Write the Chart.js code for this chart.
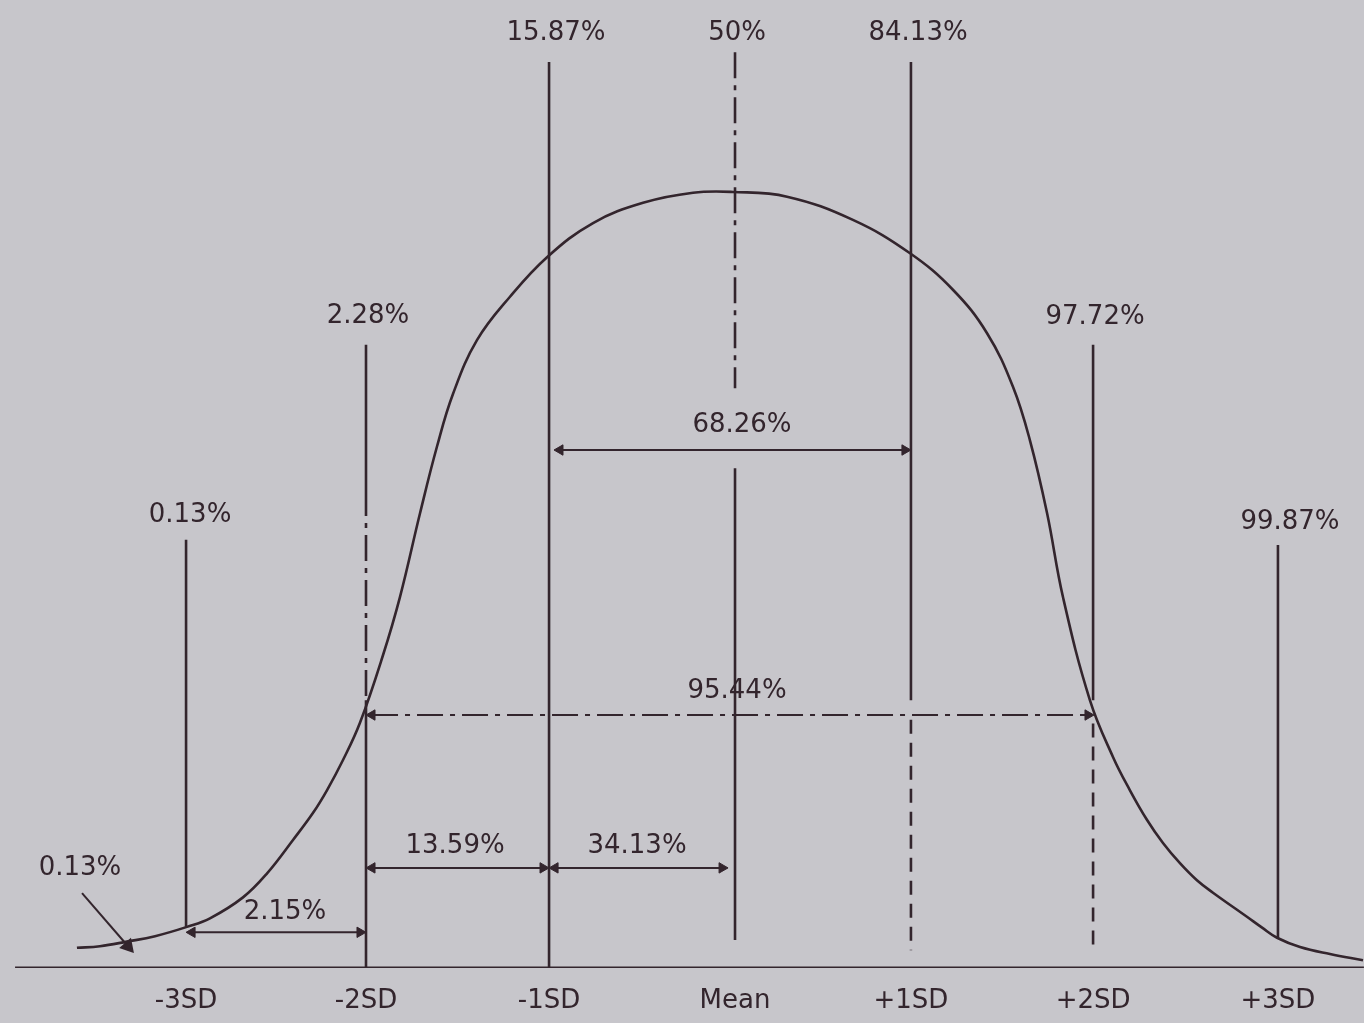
<!DOCTYPE html>
<html>
<head>
<meta charset="utf-8">
<script src="https://cdn.jsdelivr.net/npm/chart.js@4/dist/chart.umd.min.js"></script>
<style>
  html, body { margin: 0; padding: 0; background: #c7c6cb; }
  #wrap { width: 1364px; height: 1023px; }
</style>
</head>
<body>
<div id="wrap"><canvas id="c" width="1364" height="1023"></canvas></div>
<script>
// ---- Data (x in SD units, height relative to the peak) ----
const curveSD = [-3.584, -3.458, -3.310, -3.156, -2.981, -2.855, -2.674, -2.542, -2.400, -2.290, -2.214, -2.126, -2.033, -1.907, -1.814, -1.704, -1.611, -1.523, -1.392, -1.211, -1.008, -0.756, -0.482, -0.208, 0.011, 0.307, 0.668, 0.981, 1.216, 1.403, 1.545, 1.638, 1.732, 1.819, 1.967, 2.093, 2.186, 2.279, 2.367, 2.460, 2.553, 2.641, 2.827, 2.910, 2.992, 3.118, 3.282, 3.463];
const curveH  = [0.026, 0.028, 0.034, 0.041, 0.053, 0.064, 0.091, 0.122, 0.165, 0.200, 0.229, 0.268, 0.316, 0.403, 0.478, 0.586, 0.672, 0.740, 0.809, 0.865, 0.916, 0.960, 0.986, 0.999, 1.000, 0.994, 0.964, 0.921, 0.874, 0.818, 0.749, 0.680, 0.586, 0.478, 0.345, 0.272, 0.229, 0.191, 0.161, 0.135, 0.113, 0.097, 0.066, 0.052, 0.039, 0.027, 0.018, 0.010];

// SD marker lines and axis tick labels
const sdLineX    = [-2.986, -2.000, -0.997, 0.022, 0.986, 1.984, 2.997];
const tickLabels = ['-3SD', '-2SD', '-1SD', 'Mean', '+1SD', '+2SD', '+3SD'];

// Cumulative percentages shown above each SD line
const cumLabels = ['0.13%', '2.28%', '15.87%', '50%', '84.13%', '97.72%', '99.87%'];
const cumLabelX = [-2.964, -1.989, -0.959, 0.033, 1.025, 1.995, 3.063];
const cumLabelH = [0.584, 0.840, 1.205, 1.205, 1.205, 0.838, 0.575];

// Vertical line segments: [sd index, top, bottom, style]
const lineSegIdx    = [0, 1, 1, 1, 2, 3, 3, 4, 4, 5, 5, 6];
const lineSegTop    = [0.552, 0.803, 0.616, 0.345, 1.1675, 1.180, 0.644, 1.1675, 0.320, 0.803, 0.315, 0.545];
const lineSegBottom = [0.053, 0.616, 0.345, 0.000, 0.000, 0.747, 0.036, 0.345, 0.023, 0.345, 0.023, 0.039];
const lineSegStyle  = ['solid', 'solid', 'dashdot', 'solid', 'solid', 'dashdot', 'solid', 'solid', 'dashed', 'solid', 'dashed', 'solid'];

// Interval arrows (percent between two SD positions)
const intervalLabels = ['68.26%', '95.44%', '13.59%', '34.13%', '2.15%'];
const intervalFrom   = [-0.937, -1.967, -1.967, -0.964, -2.953];
const intervalTo     = [0.953, 1.956, -1.030, -0.049, -2.033];
const intervalH      = [0.6675, 0.326, 0.129, 0.129, 0.046];
const intervalLabelX = [0.060, 0.033, -1.512, -0.515, -2.444];
const intervalLabelH = [0.700, 0.356, 0.157, 0.157, 0.072];
const intervalStyle  = ['solid', 'dashdot', 'solid', 'solid', 'solid'];

// Tail label with pointer
const tailLabel = '0.13%';
const tailLabelX = -3.567, tailLabelH = 0.129;
const tailPointerX = [-3.556, -3.304];
const tailPointerH = [0.0966, 0.028];

// Base axis line extent
const axisX = [-3.923, 3.468];

// ---- Styling ----
const INK = '#33252d';
const BG = '#c7c6cb';
const FONT = '26px "DejaVu Sans", sans-serif';
const dashes = { solid: [], dashed: [14, 9], dashdot: [26, 7, 5, 7] };

const datasets = [];

// axis base line
datasets.push({
  data: axisX.map(x => ({ x, y: 0 })),
  showLine: true, borderColor: INK, borderWidth: 3, pointRadius: 0
});

// the curve
datasets.push({
  data: curveSD.map((x, i) => ({ x, y: curveH[i] })),
  showLine: true, borderColor: INK, borderWidth: 2.6, pointRadius: 0,
  tension: 0.4
});

// vertical SD lines
lineSegIdx.forEach((k, i) => {
  datasets.push({
    data: [{ x: sdLineX[k], y: lineSegTop[i] }, { x: sdLineX[k], y: lineSegBottom[i] }],
    showLine: true, borderColor: INK, borderWidth: 2.6, pointRadius: 0,
    borderDash: dashes[lineSegStyle[i]]
  });
});

// interval arrows
intervalFrom.forEach((x0, i) => {
  datasets.push({
    data: [{ x: x0, y: intervalH[i] }, { x: intervalTo[i], y: intervalH[i] }],
    showLine: true, borderColor: INK, borderWidth: 2, borderDash: dashes[intervalStyle[i]],
    pointStyle: 'triangle', pointRadius: 6, pointRotation: [-90, 90],
    pointBackgroundColor: INK, pointBorderColor: INK, pointBorderWidth: 1
  });
});

// tail pointer
datasets.push({
  data: tailPointerX.map((x, i) => ({ x, y: tailPointerH[i] })),
  showLine: true, borderColor: INK, borderWidth: 2,
  pointStyle: 'triangle', pointRadius: [0, 7], pointRotation: [0, 139],
  pointBackgroundColor: INK, pointBorderColor: INK
});

const bgPlugin = {
  id: 'bg',
  beforeDraw(chart) {
    const ctx = chart.ctx;
    ctx.save();
    ctx.fillStyle = BG;
    ctx.fillRect(0, 0, chart.width, chart.height);
    ctx.restore();
  }
};

const textPlugin = {
  id: 'texts',
  afterDatasetsDraw(chart) {
    const ctx = chart.ctx, xs = chart.scales.x, ys = chart.scales.y;
    ctx.save();
    ctx.font = FONT;
    ctx.fillStyle = INK;
    ctx.textAlign = 'center';
    ctx.textBaseline = 'middle';
    const put = (t, x, h) => ctx.fillText(t, xs.getPixelForValue(x), ys.getPixelForValue(h));
    cumLabels.forEach((t, i) => put(t, cumLabelX[i], cumLabelH[i]));
    intervalLabels.forEach((t, i) => put(t, intervalLabelX[i], intervalLabelH[i]));
    put(tailLabel, tailLabelX, tailLabelH);
    ctx.restore();
  }
};

new Chart(document.getElementById('c'), {
  type: 'scatter',
  data: { datasets },
  options: {
    responsive: false,
    animation: false,
    events: [],
    layout: { padding: 0, autoPadding: false },
    plugins: { legend: { display: false }, tooltip: { enabled: false } },
    scales: {
      x: {
        type: 'linear',
        min: -4.0055, max: 3.4685,
        grid: { display: false, drawTicks: false },
        border: { display: false },
        afterBuildTicks: s => { s.ticks = sdLineX.map(v => ({ value: v })); },
        afterFit: s => { s.height = 55; },
        ticks: {
          autoSkip: false, maxRotation: 0, padding: 18,
          color: INK, font: { family: '"DejaVu Sans", sans-serif', size: 26 },
          callback: (v, i) => tickLabels[i]
        }
      },
      y: {
        display: false,
        min: 0, max: 1.2474
      }
    }
  },
  plugins: [bgPlugin, textPlugin]
});
</script>
</body>
</html>
